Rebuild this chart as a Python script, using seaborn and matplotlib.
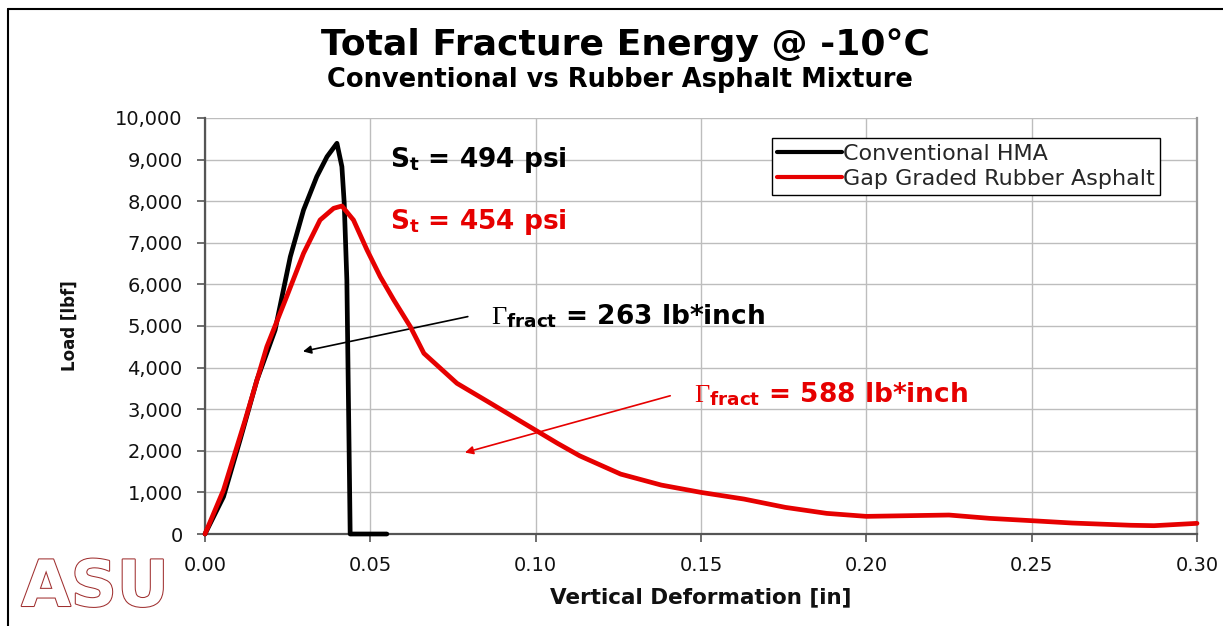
import matplotlib
matplotlib.use("Agg")
import matplotlib.pyplot as plt
import matplotlib.patheffects as pe
from matplotlib.lines import Line2D
from matplotlib.ticker import FuncFormatter
import seaborn as sns
import pandas as pd

# ---- data ----
hma_x = [0.0, 0.0056, 0.0106, 0.0157, 0.0212, 0.0258, 0.0298, 0.0338, 0.0369, 0.0399,
         0.0414, 0.0421, 0.0429, 0.0437, 0.0439, 0.0470, 0.0550]
hma_y = [0, 897, 2260, 3700, 4904, 6666, 7788, 8590, 9070, 9392,
         8830, 7957, 6106, 1298, 0, 0, 0]

rub_x = [0.0, 0.0056, 0.0120, 0.0187, 0.0247, 0.0298, 0.0348, 0.0389, 0.0414, 0.0449,
         0.0490, 0.0530, 0.0571, 0.0621, 0.0662, 0.0762, 0.0864, 0.0965, 0.1066, 0.1133,
         0.1257, 0.1380, 0.1500, 0.1630, 0.1755, 0.1880, 0.2000, 0.2124, 0.2250, 0.2373,
         0.2500, 0.2622, 0.2800, 0.2870, 0.3000]
rub_y = [0, 1058, 2700, 4503, 5705, 6747, 7548, 7829, 7885, 7548,
         6827, 6185, 5625, 4983, 4343, 3622, 3141, 2660, 2180, 1880,
         1440, 1176, 1000, 840, 640, 496, 424, 440, 456, 376,
         320, 264, 210, 200, 256]

series_names = ["Conventional HMA", "Gap Graded Rubber Asphalt"]
series_colors = ["#000000", "#e60000"]
x_ticks = [0.00, 0.05, 0.10, 0.15, 0.20, 0.25, 0.30]
y_ticks = list(range(0, 10001, 1000))

df = pd.concat([
    pd.DataFrame({"x": hma_x, "y": hma_y, "series": series_names[0]}),
    pd.DataFrame({"x": rub_x, "y": rub_y, "series": series_names[1]}),
], ignore_index=True)

sns.set_theme(style="white")
plt.rcParams["font.family"] = ["DejaVu Sans"]
plt.rcParams["mathtext.fontset"] = "custom"
plt.rcParams["mathtext.rm"] = "Liberation Serif"
plt.rcParams["mathtext.it"] = "Liberation Serif:italic"
plt.rcParams["mathtext.bf"] = "DejaVu Sans:bold"

fig = plt.figure(figsize=(12.23, 6.26), dpi=100)
ax = fig.add_axes([205 / 1223, 1 - 534 / 626, (1197 - 205) / 1223, (534 - 118) / 626])

sns.lineplot(data=df, x="x", y="y", hue="series", palette=dict(zip(series_names, series_colors)),
             sort=False, estimator=None, units="series", linewidth=3.4, ax=ax, legend=False)
for ln in ax.lines:
    ln.set_clip_on(False)
    ln.set_solid_joinstyle("round")
    ln.set_zorder(4)

ax.set_xlim(0, 0.30)
ax.set_ylim(0, 10000)
ax.set_xticks(x_ticks)
ax.set_yticks(y_ticks)
ax.xaxis.set_major_formatter(FuncFormatter(lambda v, p: f"{v:.2f}"))
ax.yaxis.set_major_formatter(FuncFormatter(lambda v, p: f"{int(round(v)):,}"))
ax.grid(True, color="#bdbdbd", linewidth=1.0)
ax.set_axisbelow(True)
for s in ["left", "bottom"]:
    ax.spines[s].set_color("#555555")
    ax.spines[s].set_linewidth(1.6)
ax.spines["right"].set_color("#9a9a9a")
ax.spines["right"].set_linewidth(1.6)
ax.spines["top"].set_visible(False)
ax.tick_params(axis="both", direction="out", length=6, width=1.2, color="#555555",
               labelsize=14, labelcolor="#111111", left=True, bottom=True)
ax.tick_params(axis="x", pad=10)
ax.tick_params(axis="y", pad=10)

ax.set_xlabel("Vertical Deformation [in]", fontsize=15.5, fontweight="bold", color="#111111", labelpad=9)
ax.set_ylabel("Load [lbf]", fontsize=12, fontweight="bold", color="#111111", labelpad=26)

# legend
handles = [Line2D([0], [0], color=c, lw=3) for c in series_colors]
leg = ax.legend(handles, series_names, loc="upper right", bbox_to_anchor=(955 / 992, 1 - 20 / 416),
                fontsize=16, frameon=True, fancybox=False, edgecolor="black", framealpha=1,
                handlelength=2.9, handletextpad=0.05, borderpad=0.25, labelspacing=0.25,
                borderaxespad=0)
leg.get_frame().set_linewidth(1.0)
leg.set_zorder(5)

# annotations
ax.text(0.056, 8990, r"S$_\mathbf{t}$ = 494 psi", fontsize=19, fontweight="bold", color="black", va="center")
ax.text(0.056, 7500, r"S$_\mathbf{t}$ = 454 psi", fontsize=19, fontweight="bold", color="#e60000", va="center")
ax.text(0.0864, 5216, r"$\Gamma_\mathbf{fract}$ = 263 lb*inch", fontsize=19, fontweight="bold",
        color="black", va="center")
ax.text(0.1479, 3341, r"$\Gamma_\mathbf{fract}$ = 588 lb*inch", fontsize=19, fontweight="bold",
        color="#e60000", va="center")
ax.annotate("", xy=(0.0288, 4375), xytext=(0.0803, 5240),
            arrowprops=dict(arrowstyle="-|>", color="black", lw=1.2, mutation_scale=12))
ax.annotate("", xy=(0.0778, 1940), xytext=(0.1415, 3341),
            arrowprops=dict(arrowstyle="-|>", color="#e60000", lw=1.2, mutation_scale=12))

# titles
fig.text(625 / 1223, 1 - 45 / 626, "Total Fracture Energy @ -10°C", ha="center", va="center",
         fontsize=26, fontweight="bold", color="black")
fig.text(620 / 1223, 1 - 80 / 626, "Conventional vs Rubber Asphalt Mixture", ha="center", va="center",
         fontsize=18.5, fontweight="bold", color="black")

# logo-like text
fig.text(95 / 1223, 1 - 588 / 626, "ASU", ha="center", va="center", fontsize=46, fontweight="heavy",
         color="white", path_effects=[pe.withStroke(linewidth=1.5, foreground="#a03030")])

# frame (left and top only)
fig.add_artist(Line2D([8 / 1223, 8 / 1223], [0, 1 - 9 / 626], transform=fig.transFigure, color="black", lw=1.5))
fig.add_artist(Line2D([8 / 1223, 1], [1 - 9 / 626, 1 - 9 / 626], transform=fig.transFigure, color="black", lw=1.5))

fig.savefig("out.png", dpi=100, facecolor="white")
